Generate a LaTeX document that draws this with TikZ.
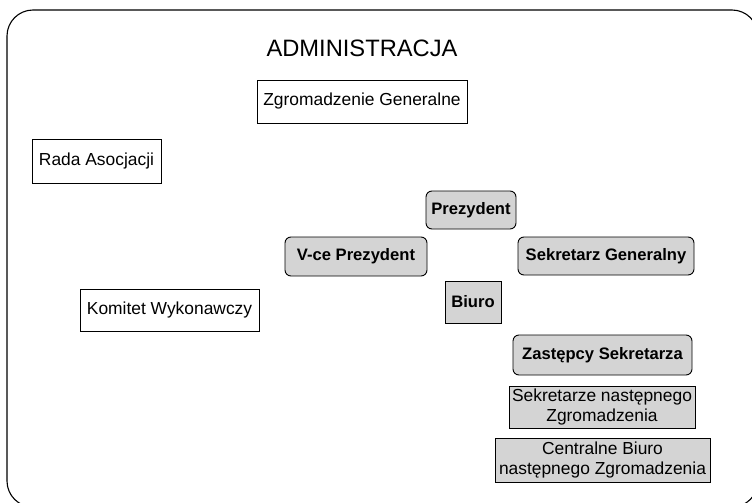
\documentclass[tikz,border=0pt]{standalone}
\usepackage{fontspec}
\setmainfont{Liberation Sans}
\usepackage{tikz}
\definecolor{boxgray}{gray}{0.83}

\begin{document}
\begin{tikzpicture}[x=1pt, y=-1pt,
  organ/.style={draw, line width=0.7pt, inner sep=0pt, align=center,
    font=\fontsize{17.4}{19.5}\selectfont},
  office/.style={organ, fill=boxgray, line width=0.9pt, font=\fontsize{16.6}{20}\selectfont\bfseries},
  rounded office/.style={office, rounded corners=6pt}]

\useasboundingbox (0, 0) rectangle (752, 503);
\clip (0, 0) rectangle (752, 503);
\draw [line width=1.1pt, rounded corners=26pt] (7, 10) rectangle (758, 507);

\node (title) at (362, 48) {\fontsize{23.7}{28}\selectfont ADMINISTRACJA};

\node [organ, minimum width=210, minimum height=43] (zgromadzenie) at (362, 101.5) {Zgromadzenie Generalne};
\node [organ, minimum width=129, minimum height=44] (rada) at (96.5, 161) {Rada Asocjacji};
\node [organ, minimum width=179, minimum height=42] (komitet) at (169.5, 310) {Komitet Wykonawczy};

\node [rounded office, minimum width=90, minimum height=38] (prezydent) at (471, 210) {Prezydent};
\node [rounded office, minimum width=142, minimum height=39] (viceprezydent) at (356, 256.5) {V-ce Prezydent};
\node [rounded office, minimum width=176, minimum height=38] (sekretarz) at (606, 256) {Sekretarz Generalny};
\node [office, minimum width=56, minimum height=42] (biuro) at (473, 302) {Biuro};
\node [rounded office, minimum width=179, minimum height=40] (zastepcy) at (602.5, 355) {Zastępcy Sekretarza};

\node [organ, fill=boxgray, line width=0.9pt, minimum width=186, minimum height=42] (sekretarze) at (602, 407) {Sekretarze następnego\\Zgromadzenia};
\node [organ, fill=boxgray, line width=0.9pt, minimum width=215, minimum height=44] (centralne) at (602.5, 460) {Centralne Biuro\\następnego Zgromadzenia};

\end{tikzpicture}
\end{document}
